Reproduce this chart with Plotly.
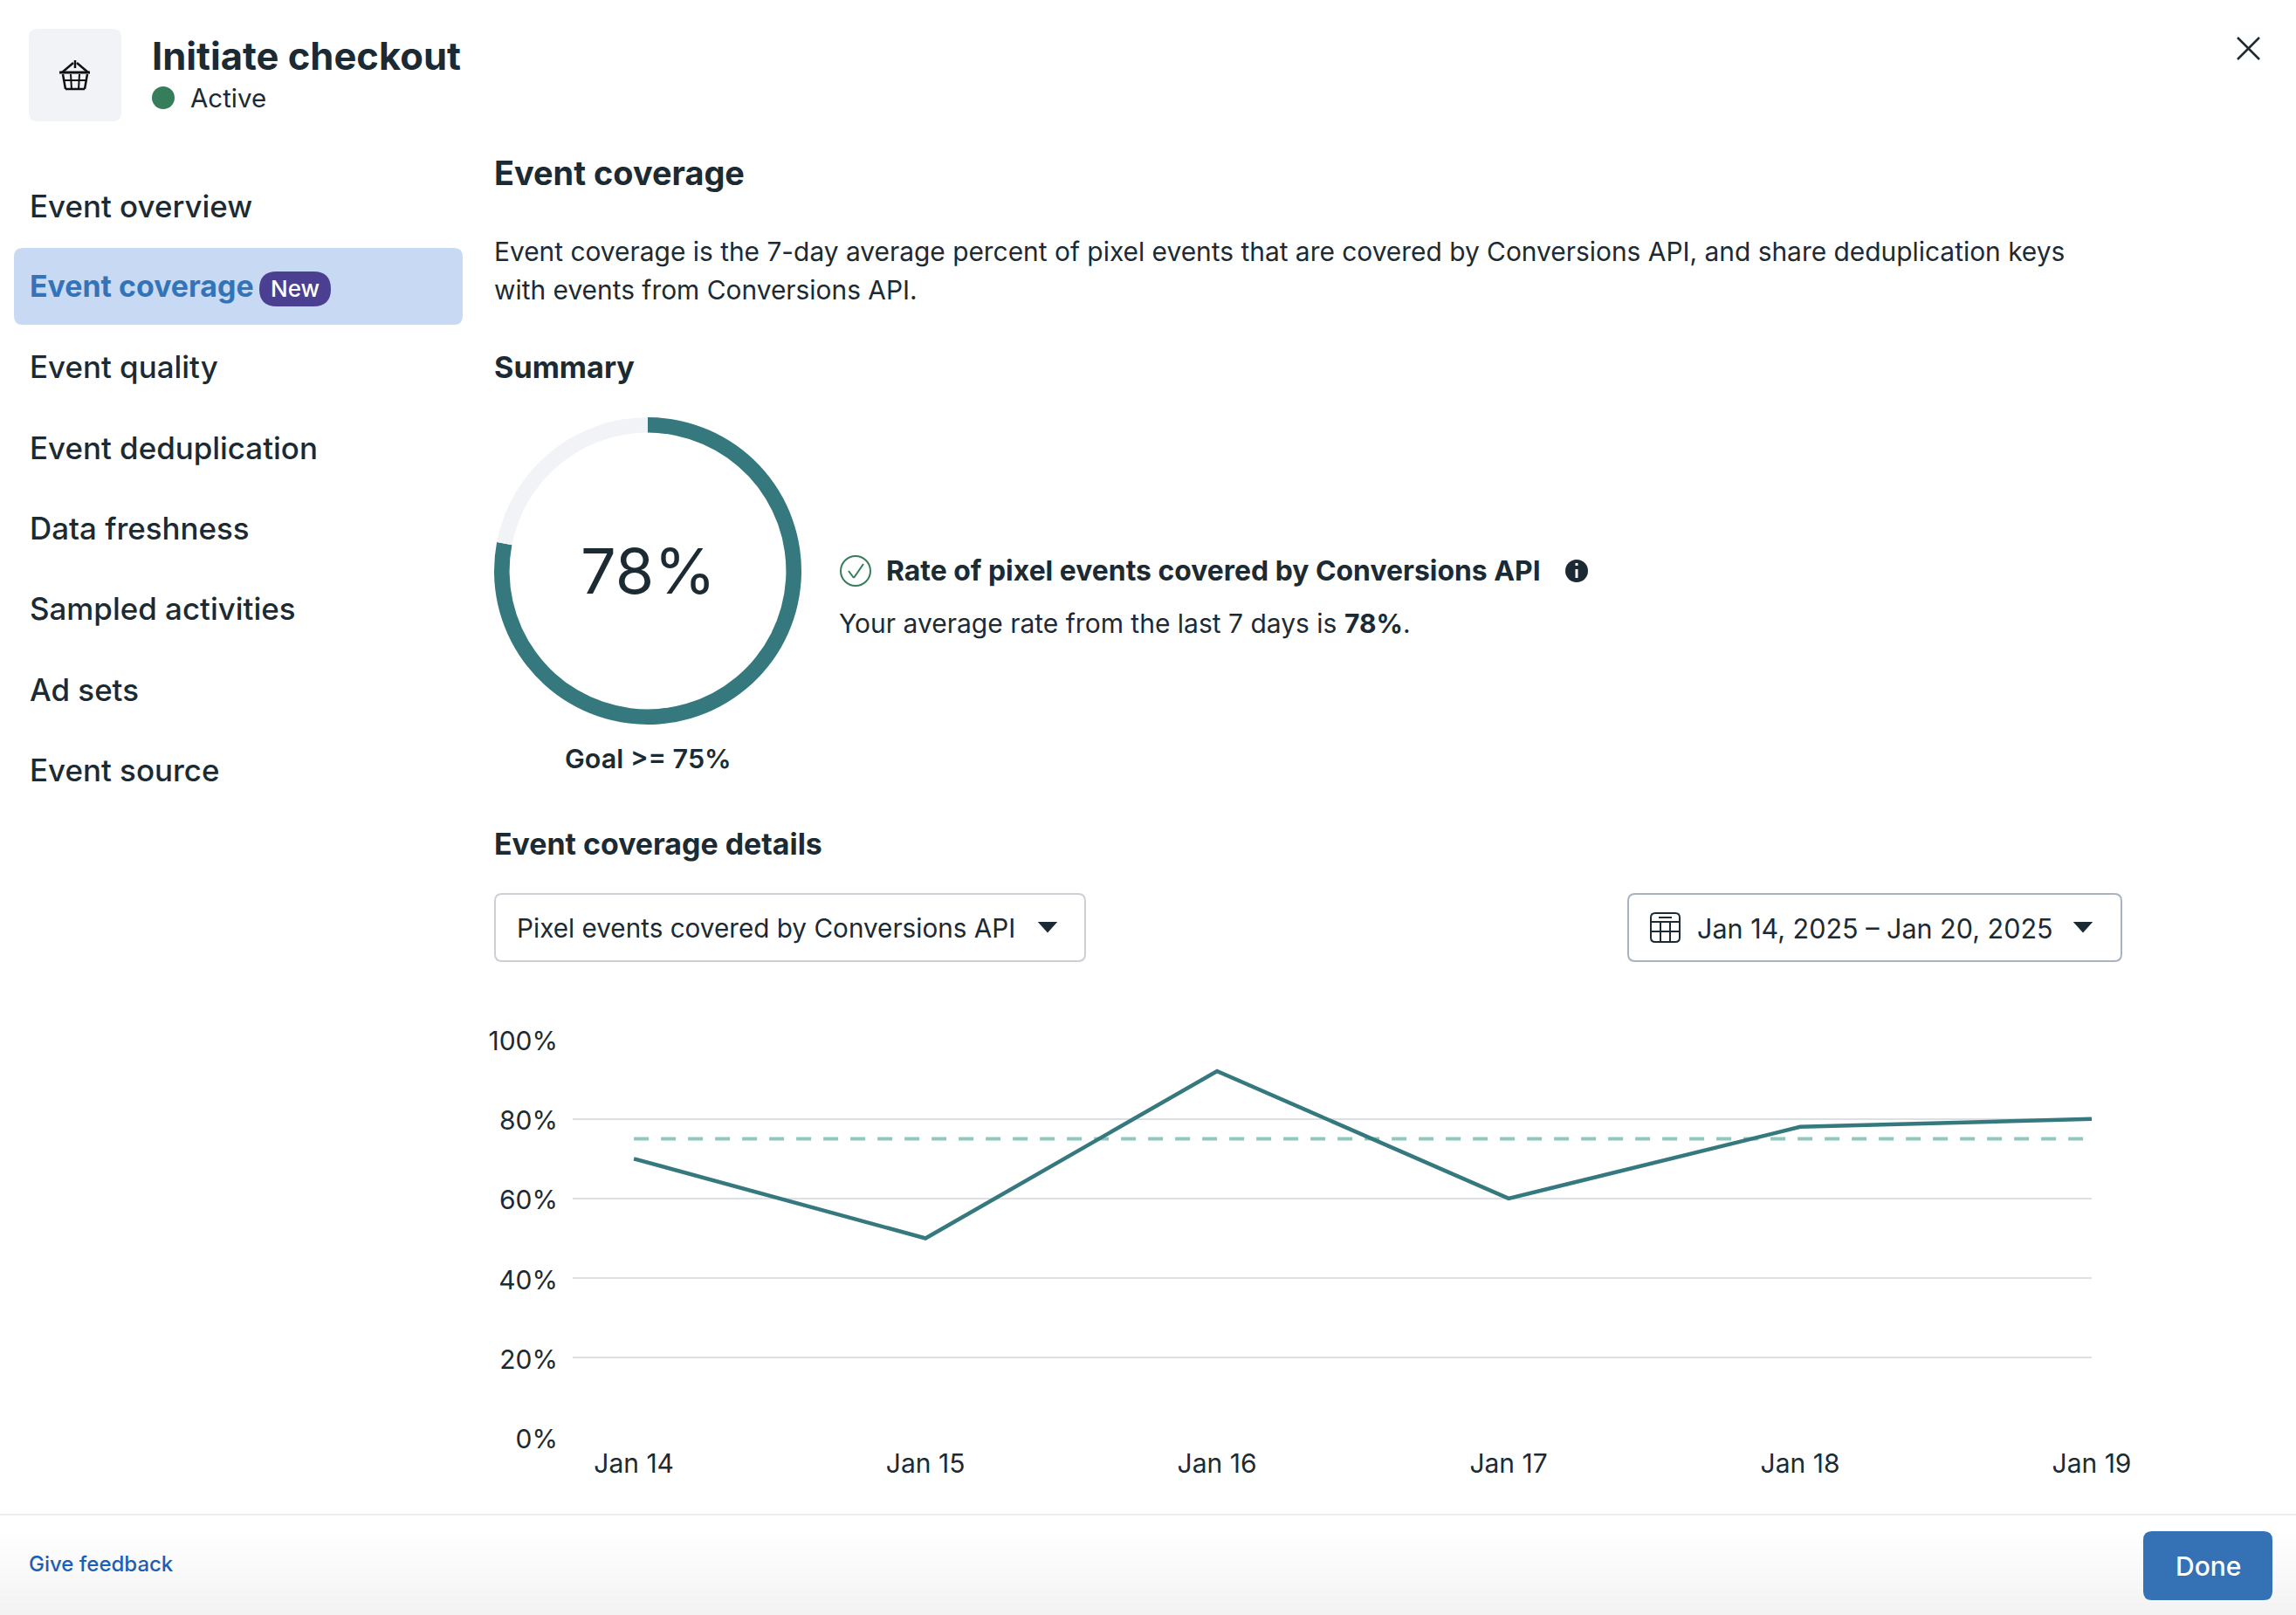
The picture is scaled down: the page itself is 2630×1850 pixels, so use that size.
import plotly.graph_objects as go

W = 2630
H = 1850

days = ['Jan 14', 'Jan 15', 'Jan 16', 'Jan 17', 'Jan 18', 'Jan 19']
coverage = [70, 50, 92, 60, 78, 80]
goal = [75, 75, 75, 75, 75, 75]
y_ticks = [0, 20, 40, 60, 80, 100]
y_labels = ['0%', '20%', '40%', '60%', '80%', '100%']
summary_values = [78, 22]
nav_items = ['Event overview', 'Event coverage', 'Event quality', 'Event deduplication',
             'Data freshness', 'Sampled activities', 'Ad sets', 'Event source']
nav_rows = [236, 328, 420, 513, 605, 697, 790, 882]

DARK = '#1c2b33'
TEAL = '#35797f'
FONT = 'Inter'


def px(x):
    return x / W


def py(y):
    return 1 - y / H


def rrect(x0, y0, x1, y1, r):
    # rounded rectangle as an svg path in paper coords
    pts = [('M', x0 + r, y0), ('L', x1 - r, y0), ('Q', x1, y0, x1, y0 + r), ('L', x1, y1 - r),
           ('Q', x1, y1, x1 - r, y1), ('L', x0 + r, y1), ('Q', x0, y1, x0, y1 - r), ('L', x0, y0 + r),
           ('Q', x0, y0, x0 + r, y0)]
    out = ''
    for p in pts:
        out += p[0]
        vals = p[1:]
        coords = []
        for i in range(0, len(vals), 2):
            coords.append(f'{px(vals[i])},{py(vals[i + 1])}')
        out += ' '.join(coords) + ' '
    return out + 'Z'


shapes = []
texts = []


def box(x0, y0, x1, y1, r, fill='rgba(0,0,0,0)', line=None, lw=2):
    shapes.append(dict(type='path', path=rrect(x0, y0, x1, y1, r), xref='paper', yref='paper',
                       fillcolor=fill, line=dict(color=line or fill, width=lw if line else 0), layer='below'))


def seg(x0, y0, x1, y1, color=DARK, lw=2.5):
    shapes.append(dict(type='line', x0=px(x0), y0=py(y0), x1=px(x1), y1=py(y1), xref='paper', yref='paper',
                       line=dict(color=color, width=lw), layer='below'))


def disc(cx, cy, r, fill='rgba(0,0,0,0)', line=None, lw=2):
    shapes.append(dict(type='circle', x0=px(cx - r), y0=py(cy - r), x1=px(cx + r), y1=py(cy + r),
                       xref='paper', yref='paper', fillcolor=fill,
                       line=dict(color=line or fill, width=lw if line else 0), layer='below'))


def tri(cx, cy, w, h, color=DARK):
    path = f'M{px(cx - w / 2)},{py(cy - h / 2)} L{px(cx + w / 2)},{py(cy - h / 2)} L{px(cx)},{py(cy + h / 2)} Z'
    shapes.append(dict(type='path', path=path, xref='paper', yref='paper', fillcolor=color,
                       line=dict(color=color, width=2), layer='below'))


def label(x, y, s, size=32, color=DARK, weight=400, anchor='left'):
    # annotations carry a little padding, pull left aligned ones back
    if anchor == 'left':
        x = x - 2
    texts.append(dict(x=px(x), y=py(y), xref='paper', yref='paper', text=s, showarrow=False,
                      xanchor=anchor, yanchor='middle', align=anchor,
                      font=dict(family=FONT, size=size, color=color, weight=weight)))


# header
box(33, 33, 139, 139, 10, fill='#f2f3f7')
seg(68, 83, 103, 83, '#111111', 3)
seg(71, 83, 84, 72, '#111111', 2.5)
seg(101, 83, 88, 72, '#111111', 2.5)
seg(86, 69, 86, 78, '#111111', 2.5)
seg(72, 85, 75, 102, '#111111', 2.5)
seg(100, 85, 97, 102, '#111111', 2.5)
seg(75, 102, 97, 102, '#111111', 2.5)
seg(73, 92, 99, 92, '#111111', 2)
seg(81, 85, 82, 102, '#111111', 2)
seg(91, 85, 90, 102, '#111111', 2)
label(174, 64, 'Initiate checkout', 43.5, DARK, 700)
disc(187, 112, 13, fill='#367d5b')
label(218, 112, 'Active', 29.5)
seg(2563, 43, 2588, 68, DARK, 2.5)
seg(2588, 43, 2563, 68, DARK, 2.5)

# left nav
box(16, 284, 530, 372, 10, fill='#c8daf3')
box(297, 311, 379, 351, 20, fill='#4b3f92')
for name, row in zip(nav_items, nav_rows):
    if name == 'Event coverage':
        label(34, row, name, 33.9, '#3373b8', 700)
    else:
        label(34, row, name, 34.9, DARK, 500)
label(338, 331, 'New', 26, '#ffffff', 500, 'center')

# summary section
label(566, 198, 'Event coverage', 37.9, DARK, 700)
label(566, 288, 'Event coverage is the 7-day average percent of pixel events that are covered by Conversions API, and share deduplication keys', 29.9)
label(566, 332, 'with events from Conversions API.', 29.9)
label(566, 420, 'Summary', 34.2, DARK, 700)
label(742, 654, '78%', 72, DARK, 400, 'center')
label(742, 868, 'Goal >= 75%', 30.5, DARK, 600, 'center')

disc(980, 654, 17, line='#367d5b', lw=2)
seg(972, 654, 978, 662, '#367d5b', 2)
seg(978, 662, 989, 646, '#367d5b', 2)
label(1015, 654, 'Rate of pixel events covered by Conversions API', 31.9, DARK, 700)
disc(1806, 654, 13, fill=DARK)
seg(1806, 652, 1806, 662, '#ffffff', 3)
seg(1806, 645, 1806, 648, '#ffffff', 3)
label(961, 714, 'Your average rate from the last 7 days is <b>78%</b>.', 30)

# details section
label(566, 966, 'Event coverage details', 33.9, DARK, 700)
box(567, 1024, 1243, 1101, 8, fill='#ffffff', line='#ccd0d5')
label(592, 1063, 'Pixel events covered by Conversions API', 29.7)
tri(1200, 1062, 18, 10)
box(1865, 1024, 2430, 1101, 8, fill='#ffffff', line='#a9b3c0')
box(1891, 1046, 1924, 1079, 5, line=DARK)
seg(1891, 1056, 1924, 1056, DARK, 2)
seg(1891, 1067, 1924, 1067, DARK, 2)
seg(1902, 1056, 1902, 1079, DARK, 2)
seg(1913, 1056, 1913, 1079, DARK, 2)
seg(1900, 1051, 1915, 1051, DARK, 2)
label(1944, 1063, 'Jan 14, 2025 – Jan 20, 2025', 30.5)
tri(2386, 1062, 18, 10)

# footer, fades a little towards the bottom
steps = 14
for i in range(steps):
    g = 255 - int(12 * i / (steps - 1))
    shapes.append(dict(type='rect', x0=0, x1=1, y0=py(1740 + i * 110 / steps), y1=py(1740 + (i + 1) * 110 / steps),
                       xref='paper', yref='paper', fillcolor=f'rgb({g},{g},{g})', line=dict(width=0), layer='below'))
seg(0, 1735, W, 1735, '#eceef0', 2)
label(33, 1791, 'Give feedback', 24, '#1a5fb8', 500)
box(2455, 1754, 2603, 1833, 10, fill='#3572b5')
label(2529, 1794, 'Done', 30, '#ffffff', 500, 'center')

fig = go.Figure()

fig.add_trace(go.Pie(values=summary_values, hole=0.9, sort=False, direction='clockwise', rotation=0,
                     marker=dict(colors=[TEAL, '#f2f3f7'], line=dict(width=0)),
                     textinfo='none', hoverinfo='skip', showlegend=False,
                     domain=dict(x=[px(742 - 176), px(742 + 176)], y=[py(654 + 176), py(654 - 176)])))

fig.add_trace(go.Scatter(x=days, y=goal, mode='lines', name='Goal', cliponaxis=False,
                         line=dict(color='#8fc9be', width=4, dash='17px,14px')))
fig.add_trace(go.Scatter(x=days, y=coverage, mode='lines', name='Coverage', cliponaxis=False,
                         line=dict(color=TEAL, width=4.5)))

fig.update_layout(width=W, height=H, autosize=False, margin=dict(l=0, r=0, t=0, b=0),
                  paper_bgcolor='#ffffff', plot_bgcolor='#ffffff', showlegend=False,
                  font=dict(family=FONT, size=30, color=DARK),
                  shapes=shapes, annotations=texts)
fig.update_xaxes(domain=[px(656), px(2396)], type='category', range=[-0.21, 5], showgrid=False, zeroline=False,
                 showline=False, automargin=False, ticks='outside', ticklen=3, tickcolor='rgba(0,0,0,0)',
                 tickfont=dict(size=30, color=DARK))
fig.update_yaxes(domain=[py(1646.5), py(1190.5)], range=[0, 100], tickvals=y_ticks, ticktext=y_labels,
                 showgrid=True, gridcolor='#dcdfe3', gridwidth=2, zeroline=False, showline=False, automargin=False,
                 ticks='outside', ticklen=10, tickcolor='rgba(0,0,0,0)', ticklabelshift=2,
                 tickfont=dict(size=30, color=DARK))

fig.write_html('out.html', config=dict(displayModeBar=False), post_script="document.body.style.margin='0';")
